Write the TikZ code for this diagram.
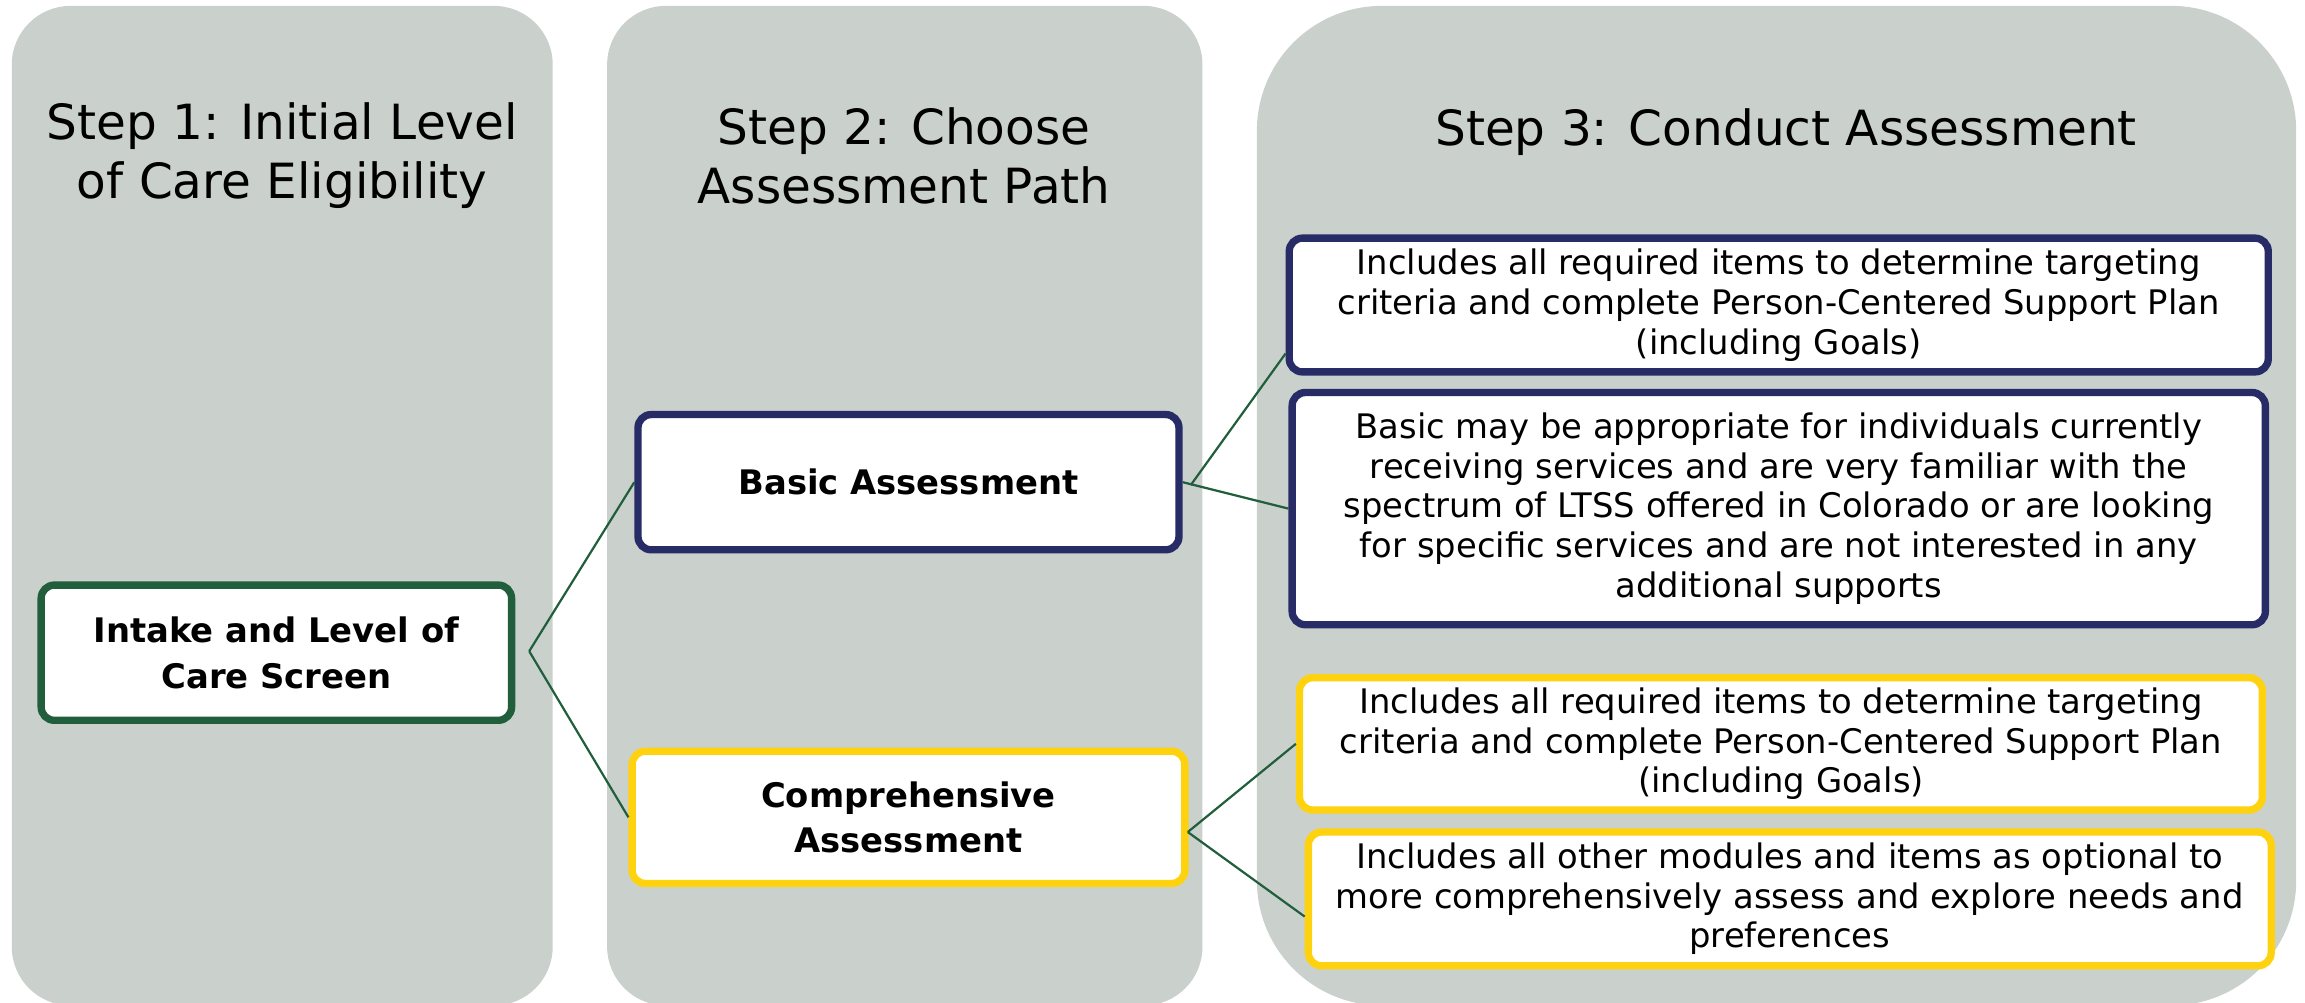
\documentclass[tikz,border=0pt]{standalone}
\usepackage{fontspec}
\setmainfont{DejaVu Sans}
\definecolor{panelgray}{HTML}{CAD1CD}
\definecolor{dgreen}{HTML}{215E3B}
\definecolor{navy}{HTML}{282C66}
\definecolor{gold}{HTML}{FFD20F}
\tikzset{
  panel/.style={fill=panelgray, draw=none, inner sep=0pt},
  title/.style={align=center, font=\fontsize{33}{40}\selectfont, inner sep=0pt},
  pathbox/.style={fill=white, line width=5pt, rounded corners=9pt, align=center, inner sep=0pt,
    font=\bfseries\fontsize{23}{31}\selectfont},
  infobox/.style={fill=white, line width=5pt, rounded corners=9pt, align=center, inner sep=0pt,
    font=\fontsize{23}{27}\selectfont},
  conn/.style={draw=dgreen, line width=1.5pt}
}
\begin{document}
\begin{tikzpicture}[x=1pt,y=-1pt]
\useasboundingbox (0,0) rectangle (1568,682);
% panels
\node[panel, rounded corners=40pt, minimum width=368pt, minimum height=680pt] (p1) at (192,344) {};
\node[panel, rounded corners=40pt, minimum width=405pt, minimum height=680pt] (p2) at (615.5,344) {};
\node[panel, rounded corners=85pt, minimum width=707pt, minimum height=680pt] (p3) at (1208.5,344) {};
% titles
\node[title] (t1) at (192,106) {Step 1: Initial Level\\of Care Eligibility};
\node[title] (t2) at (615,106) {Step 2: Choose\\Assessment Path};
\node[title] (t3) at (1215,90) {Step 3: Conduct Assessment};
% step 1
\node[pathbox, draw=dgreen, minimum width=320pt, minimum height=92pt] (intake) at (188,444) {Intake and Level of\\Care Screen};
% step 2
\node[pathbox, draw=navy, minimum width=368pt, minimum height=92pt] (basic) at (618,328) {Basic Assessment};
\node[pathbox, draw=gold, minimum width=376pt, minimum height=90pt] (comp) at (618,556) {Comprehensive\\Assessment};
% step 3
\node[infobox, draw=navy, minimum width=666pt, minimum height=91pt] (b1) at (1210,207.5)
  {Includes all required items to determine targeting\\criteria and complete Person-Centered Support Plan\\(including Goals)};
\node[infobox, draw=navy, minimum width=662pt, minimum height=158pt] (b2) at (1210,346)
  {Basic may be appropriate for individuals currently\\receiving services and are very familiar with the\\spectrum of LTSS offered in Colorado or are looking\\for specific services and are not interested in any\\additional supports};
\node[infobox, draw=gold, minimum width=655pt, minimum height=90pt] (b3) at (1211.5,506)
  {Includes all required items to determine targeting\\criteria and complete Person-Centered Support Plan\\(including Goals)};
\node[infobox, draw=gold, minimum width=655pt, minimum height=91pt] (b4) at (1217.5,611.5)
  {Includes all other modules and items as optional to\\more comprehensively assess and explore needs and\\preferences};
% connectors
\coordinate (vI) at (360,443);
\coordinate (vB) at (810,330);
\coordinate (vC) at (808,566);
\draw[conn] (vI) -- (basic.west);
\draw[conn] (vI) -- (comp.west);
\draw[conn] (vB) -- ([yshift=-33pt]b1.west);
\draw[conn] (basic.east) -- (b2.west);
\draw[conn] (vC) -- (b3.west);
\draw[conn] (vC) -- ([yshift=-12pt]b4.west);
\end{tikzpicture}
\end{document}
